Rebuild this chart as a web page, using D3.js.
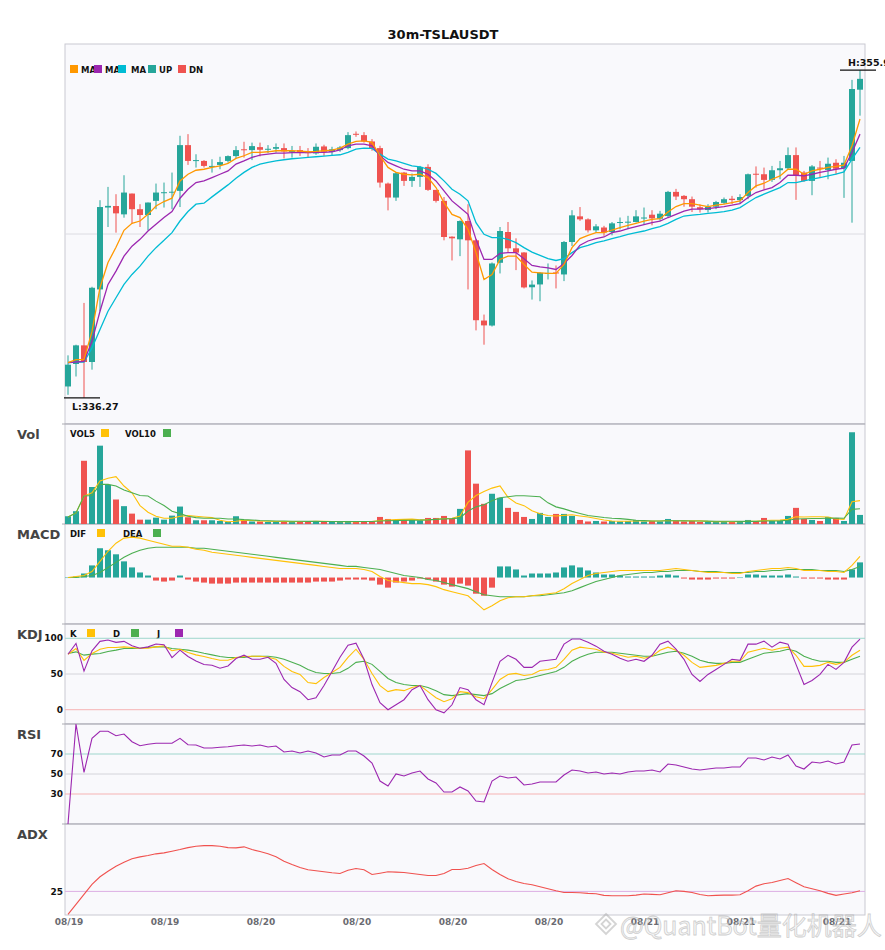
<!DOCTYPE html>
<html><head><meta charset="utf-8">
<script src="https://cdn.jsdelivr.net/npm/d3@7/dist/d3.min.js"></script>
<style>body{margin:0;background:#fff}svg{display:block}</style>
</head><body>
<svg id="c" width="885" height="950"></svg>
<script>
const title = "30m-TSLAUSDT";
const xTickLabels = ["08/19","08/19","08/20","08/20","08/20","08/20","08/21","08/21","08/21"];
const xTickIndex = [0,12,24,36,48,60,72,84,96];

const opens = [336.95,338.30,339.42,338.42,342.78,347.70,347.79,347.29,348.54,347.60,347.25,348.10,348.60,348.60,348.70,351.45,350.50,350.50,350.15,350.26,350.50,350.79,351.20,351.15,351.33,351.20,351.23,351.27,351.05,351.15,351.03,350.95,351.37,351.05,351.15,351.27,352.13,352.05,351.67,351.27,349.14,348.30,349.80,349.30,349.54,350.14,348.76,348.10,345.95,345.79,346.89,345.73,340.91,340.61,344.38,346.23,345.25,345.00,342.91,343.08,343.72,343.80,343.68,345.63,347.17,346.99,346.33,346.50,346.23,346.80,346.80,346.83,347.07,347.27,347.03,347.19,348.64,348.40,348.20,347.72,347.55,347.75,347.98,348.23,348.15,348.40,349.73,349.70,349.36,349.94,350.06,350.85,349.80,349.30,350.10,349.96,350.39,350.05,350.50,354.78];
const highs = [338.82,339.46,341.97,342.94,348.14,348.94,348.50,349.64,348.54,347.90,348.00,349.14,349.20,349.80,352.01,352.11,350.90,350.55,350.60,350.75,350.83,351.39,351.65,351.60,351.60,351.45,351.55,351.55,351.40,351.40,351.27,351.55,351.47,351.35,351.40,352.23,352.27,352.23,351.81,351.41,349.20,349.84,349.84,349.74,350.20,350.30,348.76,348.33,345.97,346.93,347.90,345.80,341.27,344.40,346.53,346.83,345.85,345.02,343.32,343.82,344.34,344.22,345.69,347.54,347.73,347.05,346.70,346.60,346.83,347.10,347.20,347.54,347.70,347.54,347.50,348.70,348.82,348.45,348.36,347.90,347.90,348.10,348.30,348.40,348.50,349.74,350.17,350.10,350.20,350.50,351.31,351.31,349.90,350.25,350.50,350.70,350.60,350.80,355.37,355.95];
const lows = [336.45,337.55,336.27,337.96,341.47,346.53,346.19,347.09,346.73,346.53,346.33,347.60,347.70,347.60,347.73,350.26,350.10,350.10,349.80,350.00,350.40,350.65,350.70,350.55,350.77,350.97,351.00,350.65,350.70,350.80,350.70,350.87,350.80,350.85,351.05,351.20,351.95,351.60,351.11,348.90,347.53,348.10,349.00,348.94,348.94,348.70,348.00,345.73,344.52,344.78,342.78,340.32,339.46,340.55,343.74,345.02,343.94,342.84,342.17,342.07,343.38,342.84,343.28,345.39,346.90,346.20,346.20,346.00,346.03,346.39,346.40,346.80,346.69,346.63,346.90,347.09,348.15,347.75,347.43,347.40,347.40,347.60,347.90,347.90,347.95,348.20,348.90,348.80,349.24,349.40,350.00,348.16,349.24,348.44,349.50,349.40,349.70,348.28,346.79,353.22];
const closes = [338.26,339.42,338.42,342.88,347.73,347.80,347.35,348.60,347.60,347.25,348.00,348.60,348.62,348.65,351.45,350.50,350.55,350.20,350.20,350.43,350.79,351.15,351.15,351.39,351.17,351.23,351.33,351.07,351.10,351.03,350.98,351.35,351.05,351.20,351.31,352.05,352.08,351.67,351.27,349.20,348.30,349.76,349.30,349.54,350.14,348.76,348.10,345.93,345.85,346.89,345.73,340.93,340.62,344.34,346.29,345.25,344.99,342.90,343.07,343.78,343.77,343.74,345.63,347.23,346.99,346.33,346.57,346.20,346.75,346.83,346.85,347.17,347.10,347.05,347.33,348.64,348.36,348.20,347.75,347.60,347.75,348.03,348.20,348.15,348.33,349.70,349.67,349.36,349.94,350.06,350.85,349.60,349.30,350.17,350.05,350.33,350.03,350.39,354.82,355.43];

const ma5 = [338.38,338.56,338.56,340.26,342.90,344.40,345.31,346.33,346.75,346.89,347.29,347.79,348.06,348.26,349.30,349.70,349.94,350.00,350.11,350.20,350.35,350.65,350.81,351.01,351.01,351.05,351.11,351.11,351.11,351.09,351.05,351.07,351.11,351.15,351.27,351.51,351.67,351.71,351.61,350.81,350.11,349.81,349.70,349.66,349.70,349.50,348.90,348.00,347.29,347.10,346.39,344.99,343.38,343.68,344.58,344.78,344.78,344.28,343.82,343.78,343.74,343.74,344.28,345.29,345.83,346.03,346.19,346.19,346.35,346.49,346.63,346.75,346.89,346.99,347.03,347.43,347.76,347.94,347.94,347.84,347.76,347.84,347.90,348.00,348.10,348.60,349.00,349.16,349.40,349.60,350.00,350.00,349.70,349.90,350.00,350.11,350.17,350.25,351.41,353.02];
const ma10 = [338.38,338.42,338.46,339.66,341.47,343.08,343.88,344.78,345.38,345.79,346.29,346.69,347.10,347.46,348.26,348.80,349.20,349.30,349.50,349.70,349.90,350.31,350.50,350.71,350.85,350.91,350.97,350.97,351.00,351.00,351.00,351.01,351.01,351.05,351.17,351.41,351.51,351.51,351.41,350.81,350.41,350.20,350.00,349.90,349.90,349.70,349.30,348.70,348.10,347.70,347.29,345.79,344.58,344.58,344.94,344.99,344.99,344.63,344.22,344.14,344.08,343.98,344.34,344.82,345.44,345.69,345.83,345.93,346.19,346.29,346.43,346.55,346.67,346.79,346.89,347.10,347.29,347.49,347.60,347.60,347.64,347.70,347.76,347.84,347.94,348.30,348.60,348.76,348.90,349.20,349.64,349.64,349.60,349.70,349.81,349.90,350.00,350.07,351.01,352.11];
const ma20 = [338.38,338.42,338.42,339.26,340.37,341.47,342.28,343.08,343.68,344.18,344.78,345.29,345.73,346.19,346.89,347.46,347.90,347.96,348.34,348.70,349.06,349.46,349.81,350.11,350.31,350.41,350.50,350.57,350.63,350.67,350.71,350.75,350.79,350.83,350.87,351.01,351.21,351.27,351.25,350.91,350.61,350.50,350.35,350.20,350.14,350.00,349.75,349.30,348.80,348.50,348.10,346.79,346.09,345.89,345.89,345.79,345.59,345.29,345.02,344.82,344.63,344.52,344.63,344.99,345.29,345.43,345.59,345.69,345.83,345.95,346.09,346.19,346.29,346.43,346.55,346.75,346.99,347.19,347.25,347.29,347.35,347.40,347.46,347.55,347.70,348.00,348.30,348.50,348.70,348.90,349.20,349.20,349.30,349.40,349.50,349.60,349.70,349.84,350.61,351.31];

const volume = [77,127,627,367,777,387,243,177,103,43,43,63,43,83,173,67,37,37,37,30,23,77,37,25,25,20,25,30,20,25,25,30,25,20,20,30,20,25,30,70,50,40,40,40,35,60,60,80,50,150,730,400,200,300,260,160,120,70,50,110,70,100,100,80,40,25,30,25,30,25,30,40,25,30,25,50,30,25,30,20,25,20,25,20,25,40,30,60,30,30,80,160,50,40,30,70,60,30,910,90];
const vol5 = [70,110,277,310,427,453,470,377,310,183,117,77,57,57,77,83,77,70,63,37,23,27,37,35,30,27,25,25,24,25,25,26,26,25,24,25,24,25,25,35,39,43,46,48,41,43,47,55,57,80,214,282,322,356,378,264,208,182,132,102,84,80,86,92,80,69,55,40,30,27,28,30,30,30,30,34,32,32,32,31,26,24,24,22,23,26,28,35,37,38,46,72,70,72,72,70,50,46,220,232];
const vol10 = [70,110,277,283,393,393,377,337,310,283,277,227,183,127,103,77,63,57,57,57,50,50,43,40,35,32,30,30,28,27,26,26,25,25,25,25,25,25,25,30,32,34,36,37,38,41,46,51,53,61,129,170,190,230,260,270,280,280,275,270,210,170,150,125,105,85,75,65,57,53,46,37,33,30,30,32,32,31,30,30,29,28,28,27,26,26,26,30,30,31,37,50,52,54,54,57,60,57,145,151];

const dif = [0,0.1,0.2,0.6,1.6,2.6,3.4,3.9,4.0,3.9,3.7,3.5,3.3,3.1,3.1,3.0,2.8,2.7,2.5,2.4,2.3,2.2,2.1,2.0,1.9,1.8,1.7,1.6,1.5,1.4,1.3,1.2,1.1,1.0,0.9,0.9,0.9,0.8,0.6,0.1,-0.3,-0.4,-0.5,-0.6,-0.6,-0.7,-0.9,-1.2,-1.4,-1.6,-1.8,-2.5,-3.2,-2.8,-2.3,-2.0,-1.9,-1.9,-1.8,-1.7,-1.6,-1.5,-1.1,-0.6,-0.2,0.2,0.4,0.5,0.6,0.7,0.7,0.7,0.7,0.7,0.7,0.8,0.9,0.8,0.7,0.6,0.5,0.5,0.5,0.4,0.4,0.6,0.7,0.8,0.9,0.9,1.0,0.9,0.7,0.7,0.7,0.6,0.6,0.5,1.2,2.1];
const dea = [0,0,0.1,0.2,0.5,1.0,1.5,2.0,2.4,2.7,2.9,3.0,3.0,3.0,3.0,3.0,2.9,2.9,2.8,2.7,2.6,2.5,2.4,2.3,2.2,2.1,2.0,1.9,1.8,1.7,1.6,1.5,1.4,1.3,1.2,1.1,1.1,1.0,0.9,0.8,0.6,0.4,0.2,0.1,0,-0.2,-0.3,-0.5,-0.7,-0.9,-1.1,-1.4,-1.7,-1.8,-1.9,-1.9,-1.9,-1.9,-1.8,-1.8,-1.7,-1.6,-1.5,-1.3,-1.0,-0.7,-0.4,-0.2,0,0.2,0.3,0.4,0.5,0.5,0.6,0.6,0.7,0.7,0.7,0.6,0.6,0.6,0.5,0.5,0.5,0.5,0.6,0.6,0.7,0.7,0.8,0.8,0.8,0.8,0.7,0.7,0.7,0.6,0.8,1.1];
const macdHist = [0,0.1,0.4,1.2,2.9,2.7,2.3,1.6,1.0,0.5,0.2,-0.3,-0.4,-0.3,0.2,-0.2,-0.4,-0.5,-0.6,-0.6,-0.6,-0.5,-0.5,-0.5,-0.5,-0.5,-0.5,-0.5,-0.5,-0.5,-0.5,-0.4,-0.4,-0.4,-0.3,-0.2,-0.2,-0.2,-0.3,-0.7,-1.0,-0.5,-0.4,-0.3,-0.1,-0.2,-0.4,-0.7,-0.9,-0.6,-0.8,-1.6,-1.8,-1.0,1.1,1.1,0.8,0.2,0.4,0.4,0.4,0.5,1.0,1.2,1.0,0.7,0.5,0.3,0.3,0.2,0.1,0.1,0.1,0.1,0.2,0.3,0.2,-0.1,-0.2,-0.2,-0.2,-0.1,-0.1,-0.1,0,0.3,0.3,0.2,0.2,0.2,0.3,0.1,-0.1,-0.1,-0.1,-0.2,-0.2,-0.2,0.8,1.5];

const kLine = [77.6,85.6,69,78.6,84.7,87,87,88,87,86,86,88,89.5,82.5,84.7,80,76.8,74.5,71.7,69.2,69.2,73,74.5,74.8,74.8,73.4,70.6,60.7,53.6,49.4,38.0,36.6,45.1,52.2,59.3,73.4,84.7,70.6,50.8,33.8,25.3,28.1,26.7,31.0,33.8,25.3,16.8,11.2,15.4,25.3,23.9,18.2,15.4,28.1,42.3,49.4,50.8,48.0,49.4,55.0,56.4,59.3,70.6,83.3,87.6,86.1,84.7,80.5,79.1,76.2,73.4,74.8,72.0,74.8,83.3,87.6,83.3,76.2,66.3,59.3,60.7,62.1,64.9,67.8,67.8,80.5,83.3,86.1,83.3,86.1,87.6,76.2,60.7,60.7,62.1,66.3,63.5,66.3,76.2,83.3];
const dLine = [78.6,81,76.4,77.8,78.6,81.5,83.4,85.7,85.7,86,87,88,88,85.7,84.7,83.4,81.5,79,76.8,74.5,73,73,73,74.8,74.8,74.8,73.4,70.6,66.3,62.1,56.4,52.2,50.8,50.8,52.2,57.9,66.3,67.8,63.5,53.6,43.7,38.0,35.2,33.8,33.8,31.0,26.7,21.1,19.7,21.1,22.5,21.1,19.7,22.5,29.6,35.2,40.9,42.3,45.1,48.0,50.8,53.6,59.3,67.8,73.4,77.7,80.5,80.5,80.5,79.1,77.7,76.2,74.8,74.8,77.7,80.5,81.9,79.1,74.8,69.2,66.3,64.9,64.9,66.3,66.3,70.6,74.8,79.1,80.5,81.9,84.7,81.9,74.8,70.6,67.8,67.8,66.3,66.3,70.6,74.8];
const jLine = [77.6,92.9,54,82.5,95.7,97.6,94.3,95.7,89.5,86,88,92,91,73,83.4,74.5,68.3,63.2,62.2,58,61.2,71.7,76.4,70.6,70.6,73.4,64.9,42.3,31.0,25.3,14.0,16.8,33.8,53.6,73.4,90.4,93.2,70.6,35.2,9.8,-0.1,6.9,14.0,28.1,33.8,14.0,-0.1,-4.4,6.9,31.0,28.1,14.0,6.9,38.0,67.8,76.2,70.6,59.3,59.3,67.8,69.2,70.6,91.8,98.9,98.9,94.6,89.0,81.9,77.7,72.0,67.8,70.6,67.8,76.2,91.8,96.0,84.7,70.6,49.4,39.5,49.4,56.4,63.5,70.6,69.2,91.8,91.8,96.0,87.6,94.6,91.8,63.5,35.2,40.9,49.4,63.5,56.4,66.3,87.6,98.9];

const rsi = [0,100,51.7,85.7,92.7,92.7,88.3,90,82.3,78.3,79.7,80.7,80.7,80.7,85.7,79.3,79,76,76,76.7,77.3,78.3,79,78,79,77,78,72,73,71,73,71,67,69,69,73,73,68,61,43,38,50,48,51,53,45,41,32,32,37,33,23,22,43,48,46,47,39,40,42,42,42,49,54,53,51,52,50,51,50,52,53,53,54,52,60,59,57,55,54,55,56,56,57,57,66,66,64,67,65,69,58,55,62,61,63,60,62,79,80];

const adx = [0.7,11.3,21.8,32.4,40.5,46.4,51.7,55.9,59.5,61.6,63,64.8,65.8,67.5,69.3,71.4,72.8,73.5,73.5,72.8,71.4,71.1,72.2,69.3,67.2,64.8,61.6,57,53.5,50.3,47.9,46.8,45.8,44.7,44,47.5,49.3,47.9,42.9,44.3,45.8,45.4,45,44,42.9,41.9,41.9,44,48.2,48.2,49.6,52.4,54.5,48.2,42.9,38.4,35.5,33.4,32,29.9,27.8,25.7,23.9,23.9,23.6,22.9,22.5,20.8,20.4,20.4,20.4,21.1,22.2,21.8,21.5,23.6,25.7,25,23.9,21.8,20.4,20.8,21.1,21.1,21.5,25.7,30.6,33.1,34.5,36.6,38.7,34.2,29.9,27.8,25.7,22.9,20.8,22.2,23.6,25.7];

const kdjTicks = [100,50,0];
const rsiTicks = [70,50,30];
const adxTicks = [25];

// ---------- drawing ----------
const svg = d3.select("#c");
const UP = "#26A69A", DN = "#EF5350";
const C_MA5 = "#FF9800", C_MA10 = "#9C27B0", C_MA20 = "#00BCD4";
const C_Y = "#FFC107", C_G = "#4CAF50", C_P = "#9C27B0";
const L = 65, R = 865;
const FONT = "DejaVu Sans, sans-serif";
const n = closes.length;
const x = d3.scaleBand().domain(d3.range(n)).range([64, 864]);
const cx = i => x(i) + x.bandwidth() / 2;
const bw = x.bandwidth() * 0.75;

const panels = {
  main: [44, 424], vol: [424, 524], macd: [524, 624], kdj: [624, 724], rsi: [724, 824], adx: [824, 915]
};
Object.entries(panels).forEach(([k, [t, b]]) => {
  svg.append("rect").attr("x", L).attr("y", t).attr("width", R - L).attr("height", b - t)
    .attr("fill", "#f9f9fc").attr("stroke", "#c9c9d2").attr("stroke-width", 1);
});
Object.entries(panels).forEach(([k, [t, b]]) => {
  if (k !== "main") svg.append("line").attr("x1", L - 3).attr("x2", R).attr("y1", t).attr("y2", t)
    .attr("stroke", "#ababb3").attr("stroke-width", 1.2);
});

svg.append("text").attr("x", 443).attr("y", 39).attr("text-anchor", "middle")
  .attr("font-family", FONT).attr("font-weight", "bold").attr("font-size", 13).attr("fill", "#111").text(title);

// main
const lo = d3.min(lows), hi = d3.max(highs), pad = (hi - lo) * 0.08;
const y = d3.scaleLinear().domain([lo - pad, hi + pad]).range([panels.main[1], panels.main[0]]);
svg.append("line").attr("x1", L).attr("x2", R).attr("y1", (panels.main[0] + panels.main[1]) / 2)
  .attr("y2", (panels.main[0] + panels.main[1]) / 2).attr("stroke", "#dcdce2");
const cg = svg.append("g");
d3.range(n).forEach(i => {
  const col = closes[i] >= opens[i] ? UP : DN;
  cg.append("line").attr("x1", cx(i)).attr("x2", cx(i)).attr("y1", y(highs[i])).attr("y2", y(lows[i]))
    .attr("stroke", col).attr("stroke-width", 1);
  const top = y(Math.max(opens[i], closes[i])), bot = y(Math.min(opens[i], closes[i]));
  cg.append("rect").attr("x", cx(i) - bw / 2).attr("width", bw).attr("y", top).attr("height", Math.max(1, bot - top))
    .attr("fill", col);
});
const line = (arr, ys) => d3.line().x((d, i) => cx(i)).y(d => ys(d))(arr);
[[ma20, C_MA20], [ma10, C_MA10], [ma5, C_MA5]].forEach(([a, c]) =>
  svg.append("path").attr("d", line(a, y)).attr("fill", "none").attr("stroke", c).attr("stroke-width", 1.3));

// H / L markers
const hiI = highs.indexOf(hi), loI = lows.indexOf(lo);
svg.append("line").attr("x1", cx(hiI) - 20).attr("x2", cx(hiI) + 16).attr("y1", y(hi)).attr("y2", y(hi)).attr("stroke", "#111").attr("stroke-width", 1.3);
svg.append("text").attr("x", cx(hiI) - 12).attr("y", y(hi) - 4).attr("font-family", FONT).attr("font-weight", "bold").attr("font-size", 9.5).attr("fill", "#111").text("H:" + hi.toFixed(2));
svg.append("line").attr("x1", cx(loI) - 20).attr("x2", cx(loI) + 16).attr("y1", y(lo)).attr("y2", y(lo)).attr("stroke", "#111").attr("stroke-width", 1.3);
svg.append("text").attr("x", cx(loI) - 12).attr("y", y(lo) + 12).attr("font-family", FONT).attr("font-weight", "bold").attr("font-size", 9.5).attr("fill", "#111").text("L:" + lo.toFixed(2));

// legends
function legend(items, yy) {
  items.forEach(([label, color, tx, sx]) => {
    svg.append("text").attr("x", tx).attr("y", yy).attr("font-family", FONT).attr("font-weight", "bold")
      .attr("font-size", 8.5).attr("fill", "#111").text(label);
    if (color) svg.append("rect").attr("x", sx).attr("y", yy - 8).attr("width", 8).attr("height", 8).attr("fill", color);
  });
}
svg.append("rect").attr("x", 70).attr("y", 65).attr("width", 8).attr("height", 8).attr("fill", C_MA5);
legend([["MA", C_MA10, 81, 94], ["MA", C_MA20, 105, 118], ["MA", UP, 131, 148], ["UP", DN, 159, 178], ["DN", null, 189, 0]], 73);
legend([["VOL5", C_Y, 70, 101], ["VOL10", C_G, 125, 163]], 437);
legend([["DIF", C_Y, 70, 97], ["DEA", C_G, 123, 153]], 537);
legend([["K", C_Y, 70, 87], ["D", C_G, 113, 131], ["J", C_P, 157, 175]], 637);

// panel titles
[["Vol", 439], ["MACD", 539], ["KDJ", 639], ["RSI", 739], ["ADX", 839]].forEach(([t, yy]) =>
  svg.append("text").attr("x", 17).attr("y", yy).attr("font-family", FONT).attr("font-weight", "bold")
    .attr("font-size", 13).attr("fill", "#444").text(t));

// volume
const yv = d3.scaleLinear().domain([0, d3.max(volume) * 1.09]).range([panels.vol[1], panels.vol[0]]);
d3.range(n).forEach(i => {
  svg.append("rect").attr("x", cx(i) - bw / 2).attr("width", bw).attr("y", yv(volume[i]))
    .attr("height", yv(0) - yv(volume[i])).attr("fill", closes[i] >= opens[i] ? UP : DN);
});
svg.append("path").attr("d", line(vol5, yv)).attr("fill", "none").attr("stroke", C_Y).attr("stroke-width", 1.1);
svg.append("path").attr("d", line(vol10, yv)).attr("fill", "none").attr("stroke", C_G).attr("stroke-width", 1.1);

// MACD
const ym = d3.scaleLinear().domain([-4.6, 5.3]).range([panels.macd[1], panels.macd[0]]);
d3.range(n).forEach(i => {
  const v = macdHist[i];
  svg.append("rect").attr("x", cx(i) - bw / 2).attr("width", bw).attr("y", Math.min(ym(v), ym(0)))
    .attr("height", Math.max(0.5, Math.abs(ym(v) - ym(0)))).attr("fill", v >= 0 ? UP : DN);
});
svg.append("path").attr("d", line(dea, ym)).attr("fill", "none").attr("stroke", C_G).attr("stroke-width", 1.1);
svg.append("path").attr("d", line(dif, ym)).attr("fill", "none").attr("stroke", C_Y).attr("stroke-width", 1.1);

// ref lines helper
function refLines(scale, ticks, colors) {
  ticks.forEach((t, k) => {
    svg.append("line").attr("x1", L).attr("x2", R).attr("y1", scale(t)).attr("y2", scale(t))
      .attr("stroke", colors[k]).attr("stroke-width", 1);
    svg.append("text").attr("x", 63).attr("y", scale(t)).attr("dy", "0.35em").attr("text-anchor", "end")
      .attr("font-family", FONT).attr("font-weight", "bold").attr("font-size", 9).attr("fill", "#111").text(t);
  });
}
// KDJ
const yk = d3.scaleLinear().domain([-20, 120]).range([panels.kdj[1], panels.kdj[0]]);
refLines(yk, kdjTicks, ["#9fd6cd", "#d4d4da", "#f6b3b3"]);
svg.append("path").attr("d", line(dLine, yk)).attr("fill", "none").attr("stroke", C_G).attr("stroke-width", 1.1);
svg.append("path").attr("d", line(kLine, yk)).attr("fill", "none").attr("stroke", C_Y).attr("stroke-width", 1.1);
svg.append("path").attr("d", line(jLine, yk)).attr("fill", "none").attr("stroke", C_P).attr("stroke-width", 1.1);

// RSI
const yr = d3.scaleLinear().domain([0, 100]).range([panels.rsi[1], panels.rsi[0]]);
refLines(yr, rsiTicks, ["#9fd6cd", "#d4d4da", "#f6b3b3"]);
svg.append("path").attr("d", line(rsi, yr)).attr("fill", "none").attr("stroke", C_P).attr("stroke-width", 1.1);

// ADX
const ya = d3.scaleLinear().domain([0, 96.4]).range([panels.adx[1], panels.adx[0]]);
refLines(ya, adxTicks, ["#dcaee3"]);
svg.append("path").attr("d", line(adx, ya)).attr("fill", "none").attr("stroke", "#F0524F").attr("stroke-width", 1.1);

// x axis labels
xTickIndex.forEach((ix, k) => {
  svg.append("text").attr("x", cx(ix) + 1).attr("y", 925).attr("text-anchor", "middle")
    .attr("font-family", FONT).attr("font-weight", "bold").attr("font-size", 9).attr("fill", "#6b6b72").text(xTickLabels[k]);
});

// watermark
const wm = svg.append("g").attr("opacity", 0.5);
wm.append("path").attr("d", "M606,914 l10,10 -10,10 -10,-10z M606,919.5 l4.5,4.5 -4.5,4.5 -4.5,-4.5z")
  .attr("fill", "none").attr("stroke", "#aaa").attr("stroke-width", 1.8);
wm.append("text").attr("x", 620).attr("y", 935).attr("font-family", "Noto Sans CJK SC, DejaVu Sans, sans-serif")
  .attr("font-size", 25).attr("fill", "#eeeeee").attr("stroke", "#a0a0a0").attr("stroke-width", 0.8).text("@QuantBot量化机器人");
</script>
</body></html>
